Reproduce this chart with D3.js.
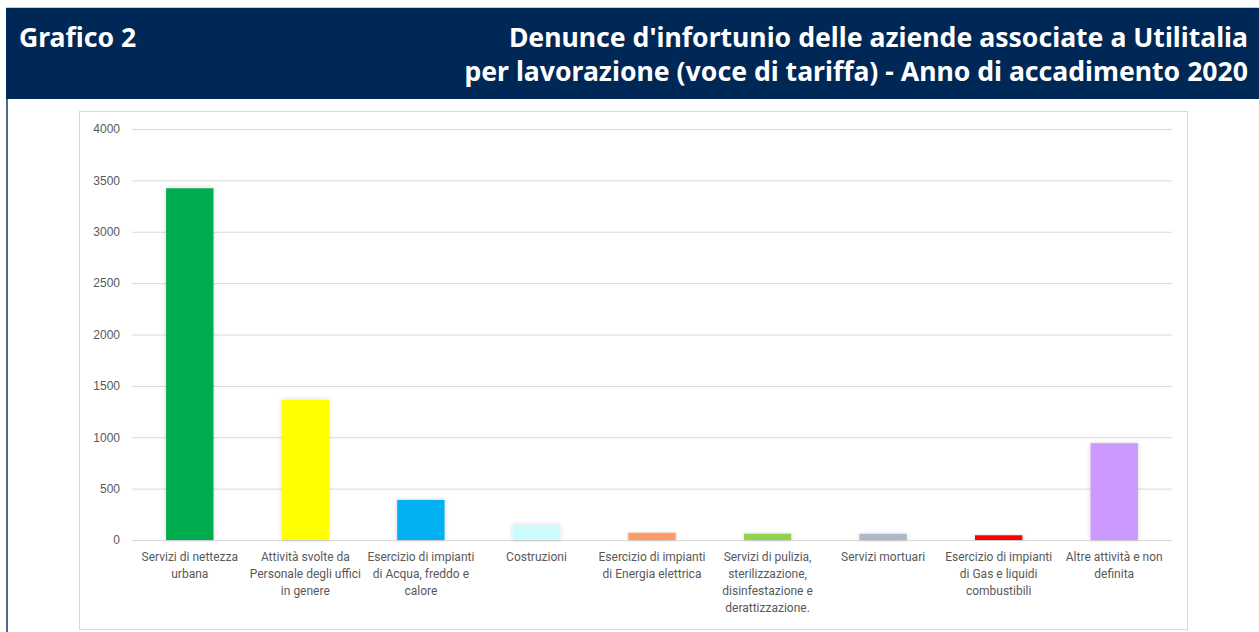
<!DOCTYPE html>
<html>
<head>
<meta charset="utf-8">
<script src="https://cdn.jsdelivr.net/npm/d3@7"></script>
<style>
	body { margin: 0; background: #fff; }
</style>
</head>
<body>
<script>
// chart data
var categories = [
	["Servizi di nettezza", "urbana"],
	["Attività svolte da", "Personale degli uffici", "in genere"],
	["Esercizio di impianti", "di Acqua, freddo e", "calore"],
	["Costruzioni"],
	["Esercizio di impianti", "di Energia elettrica"],
	["Servizi di pulizia,", "sterilizzazione,", "disinfestazione e", "derattizzazione."],
	["Servizi mortuari"],
	["Esercizio di impianti", "di Gas e liquidi", "combustibili"],
	["Altre attività e non", "definita"]
];
var values = [3423, 1365, 390, 146, 70, 61, 60, 46, 942];
var colors = ["#00ac4e", "#ffff00", "#00b0f0", "#ccfcfd", "#ff9966", "#92d050", "#acb9ca", "#ff0000", "#cc99ff"];
var yTicks = [0, 500, 1000, 1500, 2000, 2500, 3000, 3500, 4000];

(function(d3) {
	var width = 1259;
	var height = 632;

	var svg = d3.select("body").append("svg")
		.attr("width", width)
		.attr("height", height)
		.style("display", "block");

	var defs = svg.append("defs");
	var f = defs.append("filter").attr("id", "shadow")
		.attr("x", "-20%").attr("y", "-20%").attr("width", "140%").attr("height", "140%");
	f.append("feDropShadow")
		.attr("dx", 0).attr("dy", 0)
		.attr("stdDeviation", 2)
		.attr("flood-color", "#000")
		.attr("flood-opacity", 0.18);

	// outer frame
	svg.append("line")
		.attr("x1", 7).attr("x2", 7).attr("y1", 99).attr("y2", height)
		.attr("stroke", "#4d6b8e").attr("stroke-width", 2);
	svg.append("line")
		.attr("x1", 6).attr("x2", width).attr("y1", 7.5).attr("y2", 7.5)
		.attr("stroke", "#c8ced6").attr("stroke-width", 1);

	// header band
	svg.append("rect")
		.attr("x", 6).attr("y", 8)
		.attr("width", width - 6).attr("height", 91)
		.attr("fill", "#002856");

	svg.append("text")
		.attr("x", 19).attr("y", 47)
		.attr("font-family", "'Noto Sans', sans-serif")
		.attr("font-weight", "bold")
		.attr("font-size", "26.6px")
		.attr("fill", "#fff")
		.text("Grafico 2");

	var titleLines = ["Denunce d'infortunio delle aziende associate a Utilitalia",
		"per lavorazione (voce di tariffa) - Anno di accadimento 2020"];
	svg.selectAll("text.title")
		.data(titleLines)
		.enter().append("text")
		.attr("class", "title")
		.attr("x", 1248)
		.attr("y", function(d, i) { return 47 + i * 34; })
		.attr("text-anchor", "end")
		.attr("font-family", "'Noto Sans', sans-serif")
		.attr("font-weight", "bold")
		.attr("font-size", "26.6px")
		.attr("fill", "#fff")
		.text(function(d) { return d; });

	// chart area box
	svg.append("rect")
		.attr("x", 79.5).attr("y", 111.5)
		.attr("width", 1108).attr("height", 518)
		.attr("fill", "#fff")
		.attr("stroke", "#d9d9d9");

	var margin = {left: 132, right: 1172, top: 129, bottom: 540};

	var x = d3.scaleBand()
		.domain(d3.range(values.length))
		.range([margin.left, margin.right])
		.paddingInner(0.59)
		.paddingOuter(0.295);

	var y = d3.scaleLinear()
		.domain([0, 4000])
		.range([margin.bottom, margin.top]);

	// grid
	var yAxis = d3.axisLeft(y)
		.tickValues(yTicks)
		.tickSize(-(margin.right - margin.left))
		.tickPadding(12)
		.tickFormat(d3.format("d"));

	var gy = svg.append("g")
		.attr("transform", "translate(" + margin.left + ",0)")
		.call(yAxis);
	gy.select(".domain").remove();
	gy.selectAll(".tick line")
		.attr("stroke", "#d9d9d9")
		.attr("stroke-width", 1);
	gy.selectAll(".tick text")
		.attr("font-family", "'Liberation Sans', Arial, sans-serif")
		.attr("font-size", "12px")
		.attr("fill", "#595959");

	// bars
	svg.selectAll("rect.bar")
		.data(values)
		.enter().append("rect")
		.attr("class", "bar")
		.attr("x", function(d, i) { return x(i); })
		.attr("y", function(d) { return y(d); })
		.attr("width", x.bandwidth())
		.attr("height", function(d) { return y(0) - y(d); })
		.attr("fill", function(d, i) { return colors[i]; })
		.attr("filter", "url(#shadow)");

	// category labels
	var labels = svg.selectAll("text.cat")
		.data(categories)
		.enter().append("text")
		.attr("class", "cat")
		.attr("text-anchor", "middle")
		.attr("font-family", "Roboto, sans-serif")
		.attr("font-size", "12px")
		.attr("fill", "#595959");

	labels.each(function(lines, i) {
		var t = d3.select(this);
		lines.forEach(function(l, j) {
			t.append("tspan")
				.attr("x", x(i) + x.bandwidth() / 2)
				.attr("y", 561 + j * 17)
				.text(l);
		});
	});

})(d3);
</script>
</body>
</html>
